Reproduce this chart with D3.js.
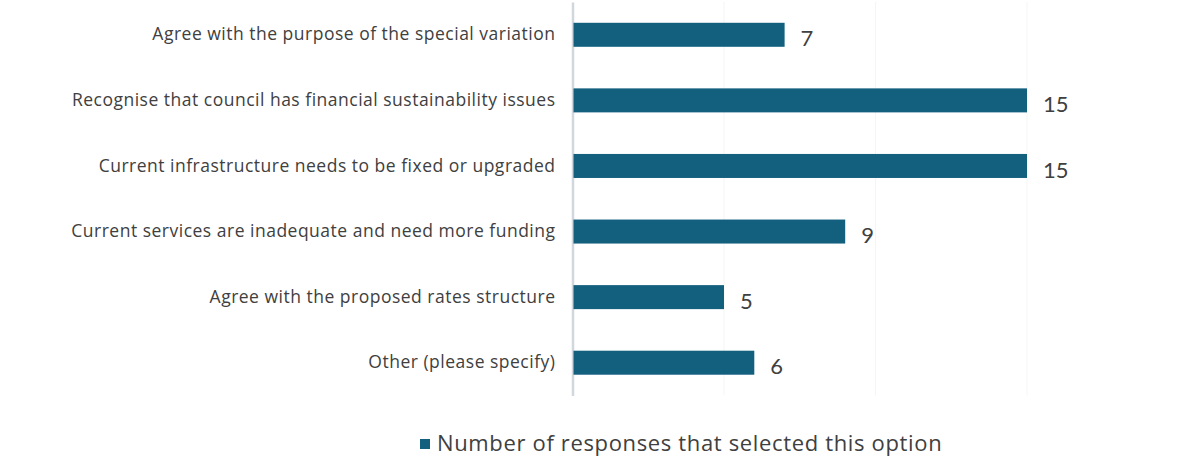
<!DOCTYPE html>
<html>
<head>
<meta charset="utf-8">
<script src="https://cdn.jsdelivr.net/npm/d3@7"></script>
<style>
  html, body { margin: 0; padding: 0; background: #ffffff; }
  svg { display: block; }
</style>
</head>
<body>
<svg id="chart" width="1179" height="457"></svg>
<script>
// Survey responses: reasons for supporting the special variation
const categories = [
  "Agree with the purpose of the special variation",
  "Recognise that council has financial sustainability issues",
  "Current infrastructure needs to be fixed or upgraded",
  "Current services are inadequate and need more funding",
  "Agree with the proposed rates structure",
  "Other (please specify)"
];
const responses = [7, 15, 15, 9, 5, 6];
const gridTicks = [5, 10, 15];
const seriesName = "Number of responses that selected this option";

const svg = d3.select("#chart");
const barColor = "#125f7e";
const textColor = "#404040";
const textFont = "'Open Sans', Lato, sans-serif";
const numberFont = "Lato, 'Open Sans', sans-serif";

const x = d3.scaleLinear().domain([0, 15]).range([572.5, 1027]);
const y = d3.scaleBand()
  .domain(categories)
  .range([2, 395.5])
  .paddingInner(0.634)
  .paddingOuter(0.317);

// faint vertical gridlines
svg.append("g")
  .selectAll("line")
  .data(gridTicks)
  .join("line")
  .attr("x1", d => x(d)).attr("x2", d => x(d))
  .attr("y1", 2).attr("y2", 395.5)
  .attr("stroke", "#f5f5f5")
  .attr("stroke-width", 1);

// category axis
const yAxis = svg.append("g")
  .attr("transform", `translate(${x(0)},0)`)
  .call(d3.axisLeft(y).tickSize(0).tickPadding(17));
yAxis.select(".domain")
  .attr("stroke", "#d2d7de")
  .attr("stroke-width", 2.5);
yAxis.selectAll("text")
  .attr("font-family", textFont)
  .attr("font-size", 17.5)
  .attr("letter-spacing", 0.5)
  .attr("fill", textColor);

// bars
svg.append("g")
  .selectAll("rect")
  .data(responses)
  .join("rect")
  .attr("x", x(0) + 1)
  .attr("y", (d, i) => y(categories[i]))
  .attr("width", d => x(d) - x(0) - 1)
  .attr("height", y.bandwidth())
  .attr("fill", barColor);

// value labels
svg.append("g")
  .selectAll("text")
  .data(responses)
  .join("text")
  .attr("x", d => x(d) + 16)
  .attr("y", (d, i) => y(categories[i]) + y.bandwidth() / 2 + 4)
  .attr("dy", "0.35em")
  .attr("font-family", numberFont)
  .attr("font-size", 22)
  .attr("fill", textColor)
  .text(d => d);

// legend
const legend = svg.append("g").attr("transform", "translate(420,444)");
legend.append("rect")
  .attr("x", 0).attr("y", -5)
  .attr("width", 10).attr("height", 10)
  .attr("fill", barColor);
legend.append("text")
  .attr("x", 17).attr("y", -1)
  .attr("dy", "0.35em")
  .attr("font-family", textFont)
  .attr("font-size", 22)
  .attr("letter-spacing", 0.65)
  .attr("fill", textColor)
  .text(seriesName);
</script>
</body>
</html>
